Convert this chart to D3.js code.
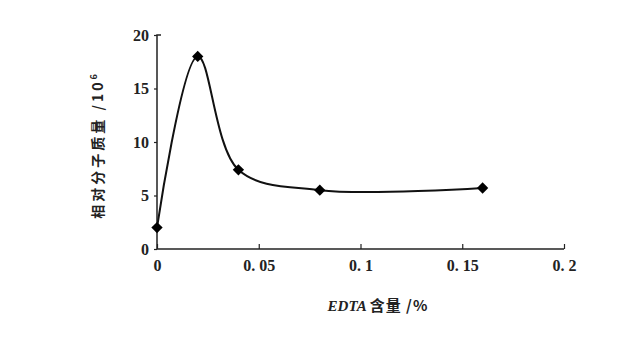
<!DOCTYPE html>
<html><head><meta charset="utf-8">
<script src="https://cdn.jsdelivr.net/npm/d3@7/dist/d3.min.js"></script>
<style>body{margin:0;background:#fff;}svg{display:block;}</style>
</head><body>
<svg id="c" width="633" height="346"></svg>
<script>
const xValues = [0, 0.02, 0.04, 0.08, 0.16];
const yValues = [2.0, 18.0, 7.4, 5.5, 5.7];
const xTicks = [0, 0.05, 0.1, 0.15, 0.2];
const xTickLabels = ["0", "0. 05", "0. 1", "0. 15", "0. 2"];
const yTicks = [0, 5, 10, 15, 20];
const xTitleLatin = "EDTA ";
const xTitleRest = "含量 /%";
const yTitle = "相对分子质量 /10";

const svg = d3.select("#c");
const x = d3.scaleLinear().domain([0, 0.2]).range([157, 564]);
const y = d3.scaleLinear().domain([0, 20]).range([249, 35]);
const ink = "#222";
const numFont = "'Liberation Serif', serif";
const cjk = "'Noto Sans CJK SC', sans-serif";

// axes
const xAxis = d3.axisBottom(x).tickValues(xTicks).tickSize(-5).tickFormat((d,i)=>xTickLabels[i]).tickPadding(11);
const gx = svg.append("g").attr("transform","translate(0,249)").call(xAxis);
gx.select(".domain").attr("d", `M${x(0)},0H${x(0.2)}`).attr("stroke", ink).attr("stroke-width",1.5);
gx.selectAll(".tick line").attr("stroke", ink).attr("stroke-width",1.2);
gx.selectAll(".tick text").attr("font-family", numFont).attr("font-weight","bold").attr("font-size",16).attr("fill", ink);

const yAxis = d3.axisLeft(y).tickValues(yTicks).tickSize(3).tickPadding(5);
const gy = svg.append("g").attr("transform","translate(157,0)").call(yAxis);
gy.select(".domain").attr("d", `M0,${y(0)}V${y(20)}h4`).attr("stroke", ink).attr("stroke-width",1.5).attr("fill","none");
gy.selectAll(".tick line").attr("stroke", ink).attr("stroke-width",1.2);
gy.selectAll(".tick text").attr("font-family", numFont).attr("font-weight","bold").attr("font-size",16).attr("fill", ink);

// curve
const pts = xValues.map((v,i)=>[v, yValues[i]]);
const line = d3.line().x(d=>x(d[0])).y(d=>y(d[1])).curve(d3.curveCatmullRom.alpha(0.5));
svg.append("path").attr("d", line(pts)).attr("fill","none").attr("stroke","#111").attr("stroke-width",2);

// markers
svg.selectAll(".m").data(pts).enter().append("path")
  .attr("d", d3.symbol().type(d3.symbolSquare).size(64)())
  .attr("transform", d=>`translate(${x(d[0])},${y(d[1])}) rotate(45)`)
  .attr("fill","#000");

// titles
const xt = svg.append("text").attr("x", 378).attr("y", 311).attr("text-anchor","middle")
  .attr("font-weight","bold").attr("font-size",15).attr("fill",ink);
xt.append("tspan").attr("font-family", numFont).attr("font-style","italic").text(xTitleLatin);
xt.append("tspan").attr("font-family", cjk).attr("letter-spacing",1).text(xTitleRest);

const yt = svg.append("text").attr("transform","translate(103,145) rotate(-90)").attr("text-anchor","middle")
  .attr("font-family", cjk).attr("font-weight","bold").attr("font-size",14).attr("fill",ink).attr("letter-spacing",3);
yt.append("tspan").text(yTitle);
yt.append("tspan").attr("dy",-6).attr("font-size",9).text("6");
</script>
</body></html>
